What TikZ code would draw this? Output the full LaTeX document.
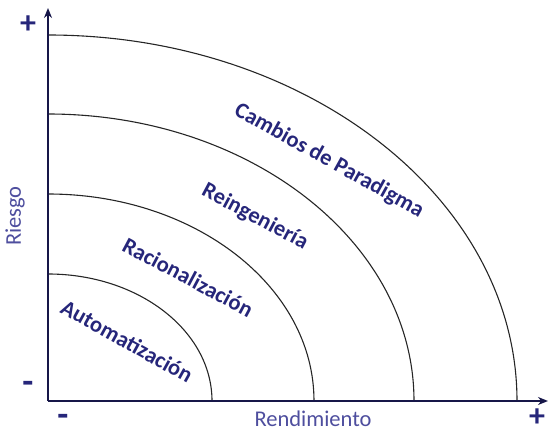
\documentclass[tikz,border=0pt]{standalone}
\usepackage{fontspec}
\setmainfont{Carlito}
\usepackage{tikz}
\usetikzlibrary{arrows.meta}

\definecolor{navy}{RGB}{38,38,122}
\definecolor{softnavy}{RGB}{78,78,158}
\definecolor{axisnavy}{RGB}{22,22,72}

\begin{document}
\begin{tikzpicture}[
    x=1pt, y=1pt,
    axis/.style={draw=axisnavy, line width=2pt, -{Stealth[length=10pt,width=8pt]}},
    ring/.style={draw=black!85, line width=1.1pt},
    zone/.style={text=navy, font=\fontsize{22.5}{22.5}\selectfont\bfseries, inner sep=0pt},
    axislabel/.style={text=softnavy, font=\fontsize{22.5}{22.5}\selectfont, inner sep=0pt},
    sign/.style={text=navy, font=\fontsize{32}{32}\selectfont\bfseries, inner sep=0pt}
]
\useasboundingbox (0,0) rectangle (550,432);

\coordinate (O) at (48,31);
\coordinate (ytop) at (48,424);
\coordinate (xend) at (548,31);

% quarter rings
\draw[ring] (212,31) arc[start angle=0, end angle=90, x radius=164pt, y radius=127pt];
\draw[ring] (314,31) arc[start angle=0, end angle=90, x radius=266pt, y radius=207pt];
\draw[ring] (414,31) arc[start angle=0, end angle=90, x radius=366pt, y radius=287pt];
\draw[ring] (517,31) arc[start angle=0, end angle=90, x radius=469pt, y radius=366pt];

% axes
\draw[axis] (O) -- (ytop);
\draw[axis] (O) -- (xend);

\node[zone, rotate=-29] (auto) at (127,91) {Automatización};
\node[zone, rotate=-28] (racio) at (188,155) {Racionalización};
\node[zone, rotate=-28] (reing) at (255,215) {Reingeniería};
\node[zone, rotate=-29] (cambios) at (329,271) {Cambios de Paradigma};

\node[axislabel, rotate=90] (riesgo) at (15,216) {Riesgo};
\node[axislabel] (rend) at (313,13) {Rendimiento};

\node[sign] (ymax) at (28,407) {+};
\node[sign, font=\fontsize{36}{36}\selectfont\bfseries] (ymin) at (28,45) {-};
\node[sign, font=\fontsize{36}{36}\selectfont\bfseries] (xmin) at (63,12) {-};
\node[sign] (xmax) at (537,14) {+};

\end{tikzpicture}
\end{document}
